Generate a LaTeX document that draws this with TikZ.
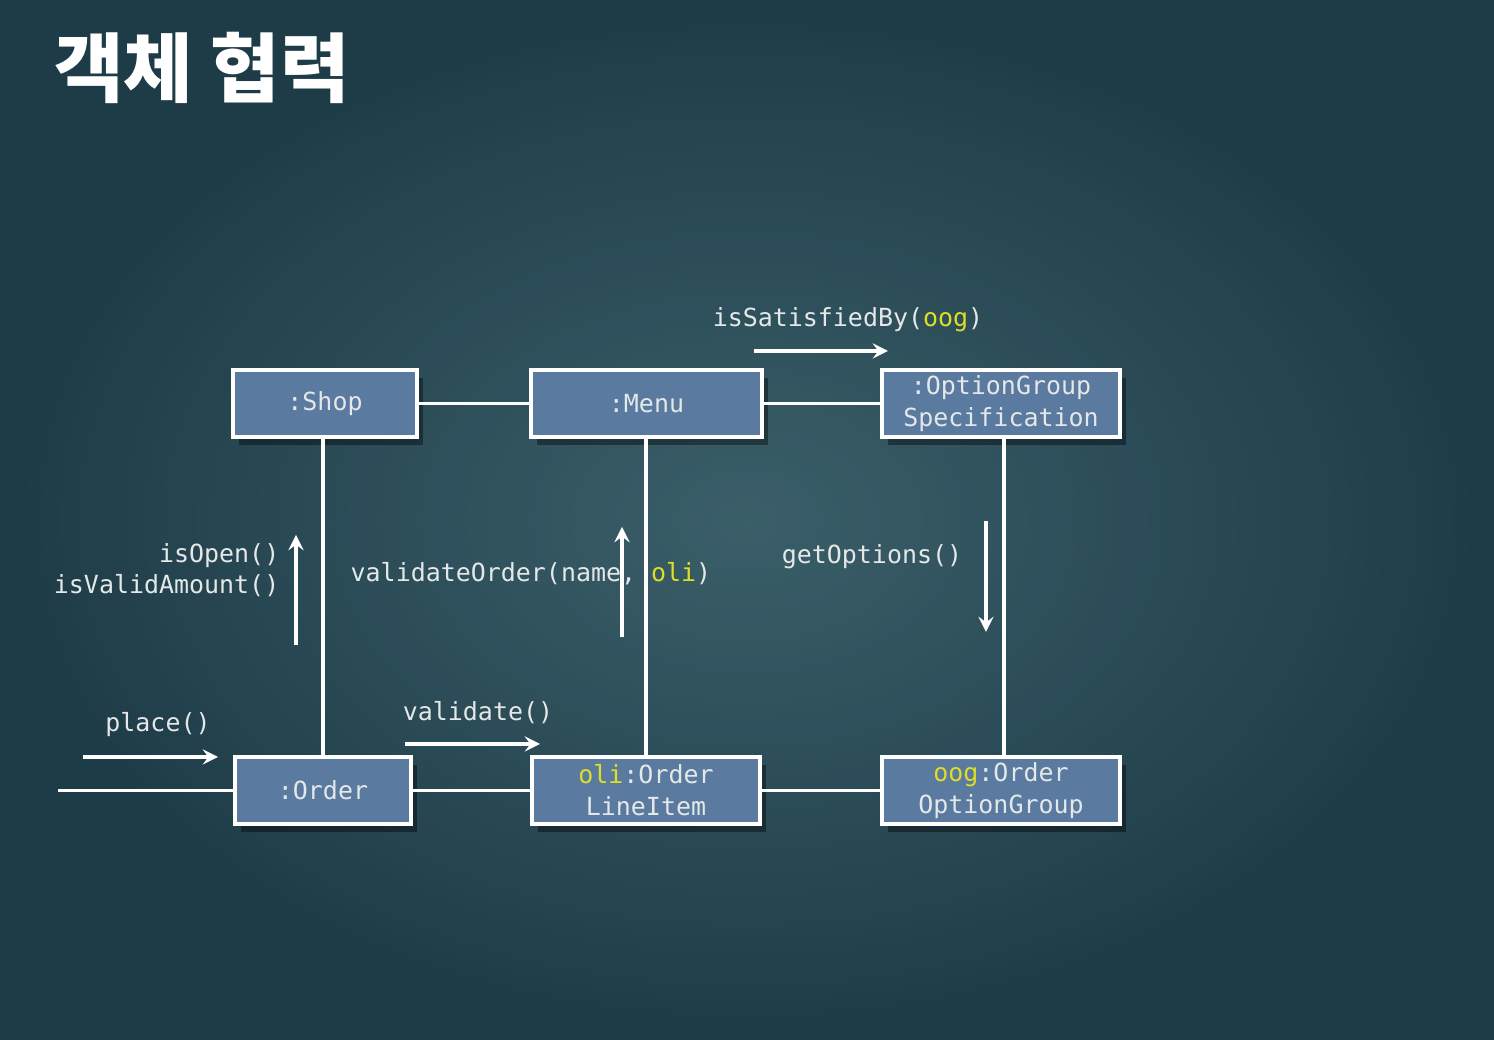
\documentclass[tikz,border=0pt]{standalone}
\usepackage{fontspec}
\setmainfont{DejaVu Sans}
\setmonofont{DejaVu Sans Mono}
\newfontfamily\kofont{Noto Sans CJK KR}
\usetikzlibrary{shadows}
\definecolor{bgdark}{RGB}{30,60,72}
\definecolor{bglight}{RGB}{66,104,114}
\definecolor{boxblue}{RGB}{90,122,160}
\definecolor{chalk}{RGB}{228,232,232}
\definecolor{hilite}{RGB}{222,222,40}
\tikzset{
  obj/.style={draw=white, line width=0.9pt, fill=boxblue, text=chalk,
    minimum height=0.67cm, inner sep=1pt, align=center,
    font=\ttfamily\fontsize{7.1}{9.1}\selectfont,
    drop shadow={shadow xshift=0.06cm, shadow yshift=-0.08cm, opacity=0.4, fill=black}},
  link/.style={draw=white, line width=0.9pt},
  msg/.style={->, >=stealth, draw=white, line width=0.9pt},
  lbl/.style={text=chalk, inner sep=0pt, font=\ttfamily\fontsize{7.1}{8.5}\selectfont}
}
\newcommand{\hl}[1]{\textcolor{hilite}{#1}}
\begin{document}
\begin{tikzpicture}
\useasboundingbox (0,0) rectangle (14.94,10.40);
\fill[bgdark] (0,0) rectangle (14.94,10.40);
\shade[inner color=bglight, outer color=bgdark, opacity=0.8] (0,0) rectangle (14.94,10.40);

\node[text=white, font=\kofont\bfseries\fontsize{21.5}{24}\selectfont] (title) at (2.02,9.72) {객체 협력};

% objects
\node[obj, minimum width=1.84cm] (shop) at (3.25,6.365) {:Shop};
\node[obj, minimum width=2.31cm] (menu) at (6.465,6.365) {:Menu};
\node[obj, minimum width=2.38cm] (ogs) at (10.01,6.365) {:OptionGroup\\Specification};
\node[obj, minimum width=1.76cm] (order) at (3.23,2.495) {:Order};
\node[obj, minimum width=2.28cm] (oli) at (6.46,2.495) {\hl{oli}:Order\\LineItem};
\node[obj, minimum width=2.38cm] (oog) at (10.01,2.495) {\hl{oog}:Order\\OptionGroup};

% links
\coordinate (start) at (0.58,2.495);
\draw[link] (shop) -- (menu);
\draw[link] (menu) -- (ogs);
\draw[link] (start) -- (order);
\draw[link] (order) -- (oli);
\draw[link] (oli) -- (oog);
\draw[link] (order.north) -- (order.north |- shop.south);
\draw[link] (oli.north) -- (oli.north |- menu.south);
\draw[link] ([xshift=0.03cm]oog.north) -- ([xshift=0.03cm]oog.north |- ogs.south);

% messages
\coordinate (p1) at (0.83,2.83);  \coordinate (p2) at (2.18,2.83);
\coordinate (v1) at (4.05,2.96);  \coordinate (v2) at (5.40,2.96);
\coordinate (o1) at (2.96,3.95);  \coordinate (o2) at (2.96,5.05);
\coordinate (m1) at (6.22,4.03);  \coordinate (m2) at (6.22,5.13);
\coordinate (g1) at (9.86,5.19);  \coordinate (g2) at (9.86,4.08);
\coordinate (s1) at (7.54,6.89);  \coordinate (s2) at (8.88,6.89);

\node[lbl] (placelbl) at (1.58,3.15) {place()};
\node[lbl] (validlbl) at (4.78,3.27) {validate()};
\node[lbl, anchor=east] (openlbl) at (2.80,4.84) {isOpen()};
\node[lbl, anchor=east] (amountlbl) at (2.80,4.54) {isValidAmount()};
\node[lbl, anchor=west] (orderlbl) at (3.50,4.66) {validateOrder(name, \hl{oli})};
\node[lbl] (optlbl) at (8.72,4.83) {getOptions()};
\node[lbl] (satlbl) at (8.48,7.20) {isSatisfiedBy(\hl{oog})};

\draw[msg] (p1) -- (p2);
\draw[msg] (v1) -- (v2);
\draw[msg] (o1) -- (o2);
\draw[msg] (m1) -- (m2);
\draw[msg] (g1) -- (g2);
\draw[msg] (s1) -- (s2);
\end{tikzpicture}
\end{document}
